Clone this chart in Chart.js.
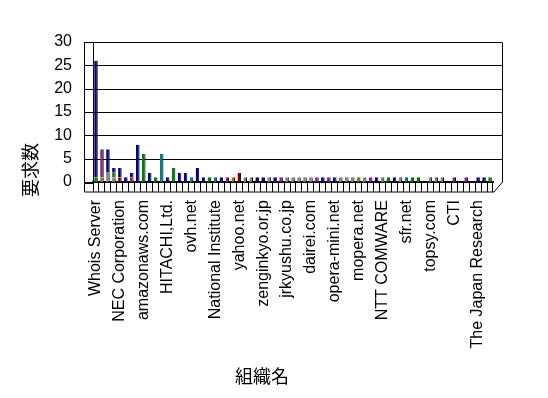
<!DOCTYPE html>
<html>
<head>
<meta charset="utf-8">
<script src="https://cdn.jsdelivr.net/npm/chart.js@4.4.1/dist/chart.umd.min.js"></script>
<style>
  body { margin: 0; background: #fff; }
  canvas { display: block; }
</style>
</head>
<body>
<canvas id="myChart" width="548" height="398"></canvas>
<script>
// organisations (only every 4th name is printed on the axis)
var categories = [
  'Whois Server', '', '', '',
  'NEC Corporation', '', '', '',
  'amazonaws.com', '', '', '',
  'HITACHI,Ltd.', '', '', '',
  'ovh.net', '', '', '',
  'National Institute', '', '', '',
  'yahoo.net', '', '', '',
  'zenginkyo.or.jp', '', '', '',
  'jrkyushu.co.jp', '', '', '',
  'dairei.com', '', '', '',
  'opera-mini.net', '', '', '',
  'mopera.net', '', '', '',
  'NTT COMWARE', '', '', '',
  'sfr.net', '', '', '',
  'topsy.com', '', '', '',
  'CTI', '', '', '',
  'The Japan Research', '', ''
];

var yTicks = [0, 5, 10, 15, 20, 25, 30];

// stacked series, bottom first
var seriesGray = [
  0,0,2,1,0,0,0,0,0,0,
  0,0,0,0,0,0,0,0,0,0,
  0,0,0,0,0,1,1,0,0,1,
  0,0,1,1,1,1,1,0,0,0,
  0,1,1,1,0,1,0,0,1,0,
  0,1,0,0,0,0,1,1,1,0,
  0,0,0,0,0,0,0
];
var seriesOlive = [
  0,1,0,0,0,0,0,0,0,0,
  0,0,0,0,0,0,0,0,0,0,
  0,0,0,1,0,0,0,0,0,0,
  0,0,0,0,0,0,0,0,0,0,
  0,0,0,0,1,0,0,0,0,0,
  0,0,0,0,0,0,0,0,0,0,
  0,0,0,0,0,0,0
];
var seriesRed = [
  0,0,0,0,1,0,0,0,0,0,
  0,0,0,0,0,0,0,0,0,0,
  0,0,0,0,2,0,0,0,0,0,
  0,0,0,0,0,0,0,0,0,0,
  0,0,0,0,0,0,0,0,0,0,
  0,0,0,0,0,0,0,0,0,0,
  0,0,0,0,0,0,0
];
var seriesGreen = [
  1,0,0,1,0,0,0,0,6,0,
  1,0,0,3,0,0,0,0,0,1,
  0,0,0,0,0,0,0,0,0,0,
  0,0,0,0,0,0,0,0,0,0,
  0,0,0,0,0,0,0,0,0,1,
  0,0,0,1,1,0,0,0,0,0,
  0,0,0,0,0,0,1
];
var seriesTeal = [
  0,0,0,0,0,0,0,0,0,0,
  0,6,0,0,0,0,1,0,0,0,
  1,0,0,0,0,0,0,0,0,0,
  0,0,0,0,0,0,0,0,0,0,
  0,0,0,0,0,0,0,0,0,0,
  0,0,1,0,0,0,0,0,0,0,
  0,0,0,0,0,0,0
];
var seriesPurple = [
  0,6,0,0,0,0,1,0,0,0,
  0,0,0,0,0,0,0,0,0,0,
  0,0,1,0,0,0,0,0,0,0,
  0,1,0,0,0,0,0,1,0,1,
  0,0,0,0,0,0,1,0,0,0,
  0,0,0,0,0,0,0,0,0,0,
  1,0,1,0,0,0,0
];
var seriesNavy = [
  25,0,5,1,2,1,1,8,0,2,
  0,0,1,0,2,2,0,3,1,0,
  0,1,0,0,0,0,0,1,1,0,
  1,0,0,0,0,0,0,0,1,0,
  1,0,0,0,0,0,0,1,0,0,
  1,0,0,0,0,0,0,0,0,0,
  0,0,0,0,1,1,0
];

var names = ['系列1', '系列2', '系列3', '系列4', '系列5', '系列6', '系列7'];
var colors = ['#808080', '#808000', '#800000', '#008000', '#008080', '#8b1a8b', '#000080'];
var allSeries = [seriesGray, seriesOlive, seriesRed, seriesGreen, seriesTeal, seriesPurple, seriesNavy];

var datasets = [];
for (var i = 0; i < allSeries.length; i++) {
  datasets.push({
    label: names[i],
    data: allSeries[i],
    backgroundColor: colors[i],
    borderColor: '#000',
    borderWidth: {left: 0, right: 1, top: 0, bottom: 0},
    borderSkipped: false,
    barPercentage: 0.6,
    categoryPercentage: 1
  });
}

// draws the excel-like 3d box around the plot
var boxPlugin = {
  id: 'box',
  beforeDatasetsDraw: function(chart) {
    var ctx = chart.ctx, a = chart.chartArea, y = chart.scales.y;
    var front = a.left - 9, back = a.right + 9;
    ctx.save();
    ctx.strokeStyle = '#000';
    ctx.lineWidth = 1;
    ctx.beginPath();
    for (var i = 1; i < yTicks.length; i++) {
      var py = Math.round(y.getPixelForValue(yTicks[i])) + 0.5;
      ctx.moveTo(front, py);
      ctx.lineTo(back, py);
    }
    var top = Math.round(y.getPixelForValue(30)) + 0.5;
    ctx.moveTo(front + 0.5, top);
    ctx.lineTo(front + 0.5, a.bottom + 10);
    ctx.lineTo(a.right + 1, a.bottom + 10);
    ctx.moveTo(a.left + 0.5, top);
    ctx.lineTo(a.left + 0.5, a.bottom);
    ctx.moveTo(back + 0.5, top);
    ctx.lineTo(back + 0.5, a.bottom);
    ctx.lineTo(a.right + 1, a.bottom + 10);
    ctx.stroke();
    ctx.lineWidth = 2;
    ctx.beginPath();
    ctx.moveTo(front, a.bottom + 1);
    ctx.lineTo(a.left, a.bottom + 1);
    ctx.stroke();
    ctx.restore();
  },
  afterDraw: function(chart) {
    var ctx = chart.ctx;
    ctx.save();
    ctx.fillStyle = '#000';
    ctx.font = '18px "Noto Sans CJK JP"';
    ctx.textAlign = 'center';
    ctx.textBaseline = 'middle';
    ctx.fillText('組織名', 262, 376);
    ctx.translate(30, 170);
    ctx.rotate(-Math.PI / 2);
    ctx.fillText('要求数', 0, 0);
    ctx.restore();
  }
};

new Chart(document.getElementById('myChart'), {
  type: 'bar',
  data: { labels: categories, datasets: datasets },
  options: {
    responsive: false,
    animation: false,
    layout: { padding: { left: 0, top: 42, right: 55, bottom: 0 } },
    plugins: { legend: { display: false }, tooltip: { enabled: false } },
    scales: {
      x: {
        stacked: true,
        afterFit: function(scale) { scale.height = 216; },
        border: { display: true, color: '#000', width: 2 },
        grid: { display: true, drawOnChartArea: false, drawTicks: true, tickLength: 10, color: '#000', offset: true },
        ticks: {
          autoSkip: false, minRotation: 90, maxRotation: 90, padding: 8,
          color: '#000', font: { family: '"Liberation Sans", Arial', size: 16 }
        }
      },
      y: {
        stacked: true,
        min: 0, max: 30,
        afterFit: function(scale) { scale.width = 93; },
        border: { display: false },
        grid: { display: false, drawTicks: false },
        afterBuildTicks: function(scale) {
          scale.ticks = yTicks.map(function(v) { return { value: v }; });
        },
        ticks: {
          padding: 21, color: '#000',
          font: { family: '"Liberation Sans", Arial', size: 16 }
        }
      }
    }
  },
  plugins: [boxPlugin]
});
</script>
</body>
</html>
